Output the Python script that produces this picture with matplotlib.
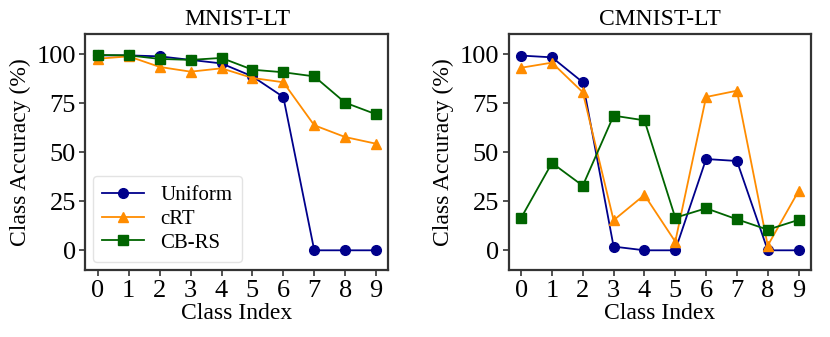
import matplotlib
matplotlib.use("Agg")
import matplotlib.pyplot as plt

classes = list(range(10))
methods = ["Uniform", "cRT", "CB-RS"]

mnist_uniform = [99.3, 99.3, 98.8, 97.0, 95.2, 88.6, 78.1, 0.0, 0.0, 0.0]
mnist_crt = [97.6, 98.8, 93.4, 91.0, 92.7, 87.8, 85.6, 63.7, 57.7, 54.3]
mnist_cbrs = [99.5, 99.3, 97.5, 97.0, 98.0, 92.0, 90.7, 88.6, 75.2, 69.3]

cmnist_uniform = [99.2, 98.3, 85.6, 1.9, 0.0, 0.0, 46.5, 45.5, 0.0, 0.0]
cmnist_crt = [93.0, 95.6, 80.5, 15.3, 28.2, 4.4, 78.1, 81.3, 2.4, 30.2]
cmnist_cbrs = [16.5, 44.5, 32.9, 68.6, 66.2, 16.6, 21.4, 15.8, 10.5, 15.5]

titles = ["MNIST-LT", "CMNIST-LT"]
yticks = [0, 25, 50, 75, 100]

plt.rcParams['font.family'] = ['Liberation Serif', 'DejaVu Serif']
plt.rcParams['font.size'] = 16

colors = ["#00008b", "#ff8c00", "#006400"]
markers = ["o", "^", "s"]

fig = plt.figure(figsize=(8.3, 3.37), dpi=100)
ax1 = fig.add_axes([0.103, 0.199, 0.365, 0.699])
ax2 = fig.add_axes([0.613, 0.199, 0.364, 0.699])

data = [[mnist_uniform, mnist_crt, mnist_cbrs], [cmnist_uniform, cmnist_crt, cmnist_cbrs]]
for ax, title, series in zip([ax1, ax2], titles, data):
    for vals, name, c, m in zip(series, methods, colors, markers):
        ax.plot(classes, vals, color=c, marker=m, markersize=7, linewidth=1.3, label=name)
    ax.set_title(title, fontsize=17, pad=7)
    ax.set_xlabel("Class Index", fontsize=17, labelpad=1)
    ax.set_ylabel("Class Accuracy (%)", fontsize=17, labelpad=4)
    ax.set_xticks(classes)
    ax.set_yticks(yticks)
    ax.set_ylim(-10, 110)
    ax.set_xlim(-0.4, 9.4)
    ax.tick_params(direction='out', length=4, width=1.2, color='#333333', labelsize=19, pad=3)
    for sp in ax.spines.values():
        sp.set_color('#333333')
        sp.set_linewidth(1.6)

leg = ax1.legend(loc='lower left', fontsize=15, frameon=True, fancybox=True,
                 borderpad=0.45, handlelength=2.0, handletextpad=0.8, labelspacing=0.2,
                 borderaxespad=0, bbox_to_anchor=(0.024, 0.034))
leg.get_frame().set_edgecolor('#dddddd')

fig.savefig("out.png", dpi=100)
